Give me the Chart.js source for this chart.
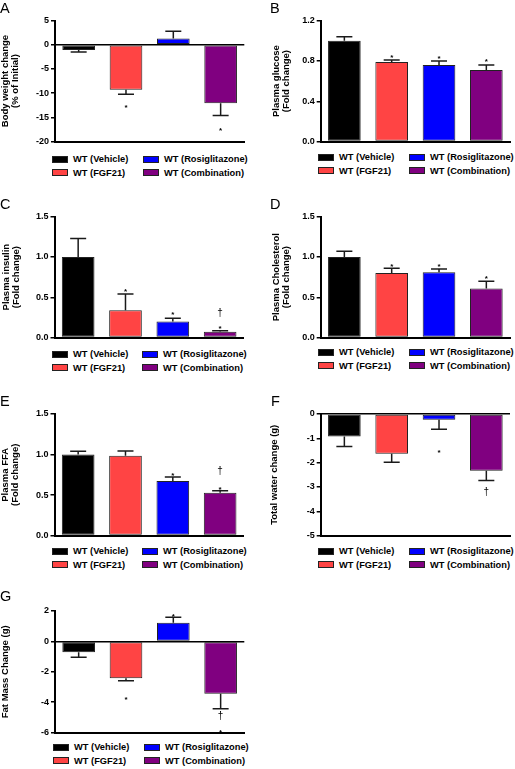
<!DOCTYPE html>
<html>
<head>
<meta charset="utf-8">
<script src="https://cdn.jsdelivr.net/npm/chart.js@4.4.1/dist/chart.umd.min.js"></script>
<style>
  html, body { margin: 0; padding: 0; background: #fff; }
  body { width: 515px; height: 769px; position: relative; overflow: hidden; font-family: "Liberation Sans", Arial, sans-serif; }
  .panel { position: absolute; }
  .letter { position: absolute; font-size: 14.5px; line-height: 14px; color: #000; }
  .item { position: absolute; height: 10px; line-height: 10px; font-size: 9.3px; font-weight: bold; color: #000; white-space: nowrap; display: flex; align-items: center; }
  .sw { width: 14px; height: 5px; border: 1px solid #222; margin-right: 5px; }
</style>
</head>
<body>
<script>
// groups and colours shared by every panel
const categories = ['WT (Vehicle)', 'WT (FGF21)', 'WT (Rosiglitazone)', 'WT (Combination)'];
const barColors = ['#000000', '#ff4444', '#0000ff', '#800080'];

// A - body weight change (% of initial)
const weightChange = [-1.1, -9.3, 1.3, -12.1];
const weightErr = [0.4, 0.9, 1.5, 2.5];
const weightTicks = [-20, -15, -10, -5, 0, 5];
const weightMarks = [[1, '*', -12.5], [3, '*', -17.3]];

// B - plasma glucose
const glucose = [1.0, 0.79, 0.76, 0.71];
const glucoseErr = [0.04, 0.02, 0.04, 0.05];
const glucoseTicks = [0, 0.4, 0.8, 1.2];
const glucoseMarks = [[1, '*', 0.86], [2, '*', 0.85], [3, '*', 0.82]];

// C - plasma insulin
const insulin = [1.0, 0.34, 0.2, 0.072];
const insulinErr = [0.23, 0.2, 0.04, 0.012];
const insulinTicks = [0, 0.5, 1.0, 1.5];
const insulinMarks = [[1, '*', 0.6], [2, '*', 0.31], [3, '*', 0.14], [3, '†', 0.3]];

// D - plasma cholesterol
const cholesterol = [1.0, 0.8, 0.81, 0.61];
const cholesterolErr = [0.07, 0.06, 0.04, 0.09];
const cholesterolTicks = [0, 0.5, 1.0, 1.5];
const cholesterolMarks = [[1, '*', 0.91], [2, '*', 0.91], [3, '*', 0.76]];

// E - plasma FFA
const ffa = [1.0, 0.985, 0.675, 0.53];
const ffaErr = [0.04, 0.06, 0.047, 0.024];
const ffaTicks = [0, 0.5, 1.0, 1.5];
const ffaMarks = [[2, '*', 0.77], [3, '*', 0.6], [3, '†', 0.8]];

// F - total water change (g)
const water = [-0.93, -1.63, -0.24, -2.33];
const waterErr = [0.41, 0.35, 0.39, 0.4];
const waterTicks = [-5, -4, -3, -2, -1, 0];
const waterMarks = [[2, '*', -1.5], [3, '†', -3.2]];

// G - fat mass change (g)
const fatMass = [-0.72, -2.42, 1.23, -3.44];
const fatMassErr = [0.32, 0.17, 0.36, 0.99];
const fatMassTicks = [-6, -4, -2, 0, 2];
const fatMassMarks = [[1, '*', -3.65], [2, '*', 1.75], [3, '†', -4.92], [3, '*', -5.85]];

const panels = [
  { letter: 'A', title: ['Body weight change', '(% of Initial)'], values: weightChange, err: weightErr, ticks: weightTicks, dec: 0, marks: weightMarks,
    axisX: 55, plotTop: 20.5, plotBottom: 146, titleX: 6, letterPos: [0, 1], legendX: [52, 143], legendY: 159 },
  { letter: 'B', title: ['Plasma glucose', '(Fold change)'], values: glucose, err: glucoseErr, ticks: glucoseTicks, dec: 1, marks: glucoseMarks,
    axisX: 320.7, plotTop: 20.7, plotBottom: 146, titleX: 276.5, letterPos: [270, 1], legendX: [318, 409], legendY: 157 },
  { letter: 'C', title: ['Plasma insulin', '(Fold change)'], values: insulin, err: insulinErr, ticks: insulinTicks, dec: 1, marks: insulinMarks,
    axisX: 54.5, plotTop: 216.7, plotBottom: 342, titleX: 6.5, letterPos: [0, 197], legendX: [52, 142], legendY: 354 },
  { letter: 'D', title: ['Plasma Cholesterol', '(Fold change)'], values: cholesterol, err: cholesterolErr, ticks: cholesterolTicks, dec: 1, marks: cholesterolMarks,
    axisX: 320.7, plotTop: 216.7, plotBottom: 342, titleX: 276.5, letterPos: [270, 197], legendX: [318, 409], legendY: 352 },
  { letter: 'E', title: ['Plasma FFA', '(Fold change)'], values: ffa, err: ffaErr, ticks: ffaTicks, dec: 1, marks: ffaMarks,
    axisX: 54.5, plotTop: 414, plotBottom: 540, titleX: 6, letterPos: [0, 394], legendX: [52, 142], legendY: 551 },
  { letter: 'F', title: 'Total water change (g)', values: water, err: waterErr, ticks: waterTicks, dec: 0, marks: waterMarks,
    axisX: 320.7, plotTop: 414, plotBottom: 540, titleX: 275, letterPos: [271, 394], legendX: [318, 409], legendY: 551 },
  { letter: 'G', title: 'Fat Mass Change (g)', values: fatMass, err: fatMassErr, ticks: fatMassTicks, dec: 0, marks: fatMassMarks,
    axisX: 55, plotTop: 611, plotBottom: 736.7, titleX: 6, letterPos: [0, 589], legendX: [53, 144], legendY: 747 }
];

const plotWidth = 189.3;
Chart.defaults.font.family = '"Liberation Sans", Arial, sans-serif';
Chart.defaults.color = '#000';

// error bars (away from zero) plus the * / † significance marks
function errorBars(p) {
  return {
    id: 'errorBars',
    afterDatasetsDraw(chart) {
      const ctx = chart.ctx;
      const y = chart.scales.y;
      const bars = chart.getDatasetMeta(0).data;
      ctx.save();
      ctx.strokeStyle = '#1a1a1a';
      ctx.lineWidth = 1.5;
      bars.forEach((bar, i) => {
        const v = p.values[i];
        const end = v < 0 ? v - p.err[i] : v + p.err[i];
        const y0 = y.getPixelForValue(v);
        const y1 = y.getPixelForValue(end);
        ctx.beginPath();
        ctx.moveTo(bar.x, y0);
        ctx.lineTo(bar.x, y1);
        ctx.moveTo(bar.x - 8, y1);
        ctx.lineTo(bar.x + 8, y1);
        ctx.stroke();
      });
      ctx.fillStyle = '#000';
      ctx.textAlign = 'center';
      ctx.textBaseline = 'alphabetic';
      p.marks.forEach(([i, sym, val]) => {
        const size = sym === '*' ? 8 : 10;
        const k = sym === '*' ? 0.58 : 0.3;
        ctx.font = (sym === '*' ? 'bold ' : '') + size + 'px "Liberation Sans", Arial, sans-serif';
        ctx.fillText(sym, bars[i].x, y.getPixelForValue(val) + k * size);
      });
      ctx.restore();
    }
  };
}

panels.forEach(p => {
  const L = Math.floor(p.titleX - 4.5);
  const T = Math.floor(p.plotTop - 8);
  const plotRight = p.axisX + plotWidth;
  const W = Math.ceil(plotRight + 4) - L;
  const H = Math.ceil(p.plotBottom + 3) - T;

  const box = document.createElement('div');
  box.className = 'panel';
  box.style.cssText = `left:${L}px;top:${T}px;width:${W}px;height:${H}px;`;
  const canvas = document.createElement('canvas');
  box.appendChild(canvas);
  document.body.appendChild(box);

  const lt = document.createElement('div');
  lt.className = 'letter';
  lt.textContent = p.letter;
  lt.style.left = p.letterPos[0] + 'px';
  lt.style.top = p.letterPos[1] + 'px';
  document.body.appendChild(lt);

  // legend runs down the columns: vehicle / FGF21, then rosiglitazone / combination
  categories.forEach((c, i) => {
    const it = document.createElement('div');
    it.className = 'item';
    it.style.left = p.legendX[i < 2 ? 0 : 1] + 'px';
    it.style.top = (p.legendY + (i % 2) * 13.5 - 5) + 'px';
    it.innerHTML = `<span class="sw" style="background:${barColors[i]}"></span>${c}`;
    document.body.appendChild(it);
  });

  new Chart(canvas, {
    type: 'bar',
    data: {
      labels: categories,
      datasets: [{
        data: p.values,
        backgroundColor: barColors,
        borderColor: '#222',
        borderWidth: 1,
        borderSkipped: false,
        barPercentage: 0.69,
        categoryPercentage: 1
      }]
    },
    options: {
      responsive: true,
      maintainAspectRatio: false,
      animation: false,
      layout: {
        autoPadding: false,
        padding: { left: 0, top: p.plotTop - T, right: W - (plotRight - L), bottom: H - (p.plotBottom - T) }
      },
      plugins: { legend: { display: false }, tooltip: { enabled: false } },
      scales: {
        x: {
          ticks: { display: false },
          grid: { display: false },
          border: { display: true, color: '#000', width: 2 },
          afterFit: s => { s.height = 0; }
        },
        y: {
          min: Math.min(...p.ticks),
          max: Math.max(...p.ticks),
          afterBuildTicks: s => { s.ticks = p.ticks.map(v => ({ value: v })); },
          afterFit: s => { s.width = p.axisX - L; },
          ticks: {
            font: { size: 9, weight: 'bold' },
            color: '#000',
            padding: 2,
            callback: v => Number(v).toFixed(p.dec)
          },
          grid: {
            color: c => (c.tick && c.tick.value === 0 ? '#000' : 'rgba(0,0,0,0)'),
            lineWidth: 1.5,
            tickColor: '#000',
            tickLength: 4,
            tickWidth: 1.5
          },
          border: { display: true, color: '#000', width: 2 },
          title: {
            display: true,
            text: p.title,
            color: '#000',
            padding: 0,
            font: { size: 9.5, weight: 'bold', lineHeight: 1 }
          }
        }
      }
    },
    plugins: [errorBars(p)]
  });
});
</script>
</body>
</html>
